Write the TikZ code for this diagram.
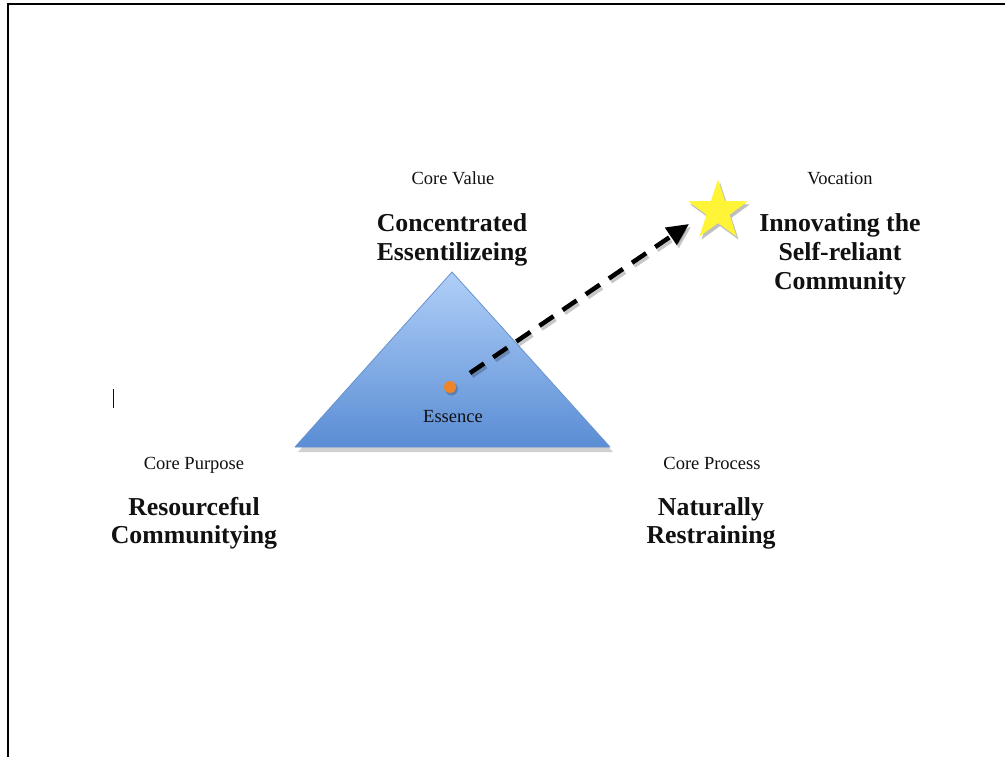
\documentclass[tikz,border=0pt]{standalone}
\usepackage{fontspec}
\setmainfont{Liberation Serif}
\usetikzlibrary{arrows.meta,shapes.geometric,shadows}
\definecolor{tritop}{HTML}{B0CFF8}
\definecolor{tribot}{HTML}{5A8DD4}
\definecolor{triedge}{HTML}{6792CE}
\definecolor{essdot}{HTML}{EE8529}
\definecolor{staryellow}{HTML}{FFF435}
\definecolor{txt}{HTML}{111111}
\tikzset{
  smalllabel/.style={font=\fontsize{18.5}{21}\selectfont, text=txt, anchor=base, inner sep=0pt},
  biglabel/.style={font=\fontsize{25.8}{29}\selectfont\bfseries, text=txt, anchor=base, inner sep=0pt},
  softshadow/.style={drop shadow={shadow xshift=2pt, shadow yshift=-3pt, opacity=0.25, fill=black}},
  dasharrow/.style={line width=4.5pt, dash pattern=on 17pt off 11pt,
        -{Triangle[length=22pt,width=20pt]}},
}
\begin{document}
\begin{tikzpicture}[x=1pt,y=-1pt]
  \useasboundingbox (0,0) rectangle (1005,757);
  \fill[white] (0,0) rectangle (1005,757);
  % page frame (top and left edges)
  \draw[line width=2.6pt] (8,757) -- (8,4) -- (1005,4);

  % the triangle
  \coordinate (apex) at (452,272);
  \coordinate (bl) at (295,447);
  \coordinate (br) at (610,447);
  \fill[black, opacity=0.18] (452,276) -- (298,452) -- (613,452) -- cycle;
  \shade[top color=tritop, bottom color=tribot] (apex) -- (bl) -- (br) -- cycle;
  \draw[triedge, line width=0.8pt, line join=round] (apex) -- (bl) -- (br) -- cycle;

  % essence point
  \fill[black, opacity=0.2] (451.5,389) circle (6.5);
  \node[circle, fill=essdot, minimum size=12pt, inner sep=0pt] (ess) at (450,387) {};
  \node[smalllabel] (esslbl) at (453,422) {Essence};

  % star
  \node[star, star points=5, star point ratio=2.6, minimum size=63pt, inner sep=0pt,
        fill=staryellow, softshadow] (star) at (718,211) {};

  % dashed arrow from essence toward the star
  \coordinate (arrstart) at (470,373);
  \coordinate (arrtip) at (689,224);
  \coordinate (shstart) at (472,376);
  \coordinate (shtip) at (691,227);
  \draw[black, opacity=0.22, dasharrow] (shstart) -- (shtip);
  \draw[black, dasharrow] (arrstart) -- (arrtip);

  % labels
  \node[smalllabel] (cv) at (453,185) {Core Value};
  \node[biglabel] (cv1) at (452,232) {Concentrated};
  \node[biglabel] (cv2) at (452,260) {Essentilizeing};

  \node[smalllabel] (voc) at (840,185) {Vocation};
  \node[biglabel] (voc1) at (840,232) {Innovating the};
  \node[biglabel] (voc2) at (840,260) {Self-reliant};
  \node[biglabel] (voc3) at (840,289) {Community};

  \node[smalllabel] (cp) at (194,469) {Core Purpose};
  \node[biglabel] (cp1) at (194,515) {Resourceful};
  \node[biglabel] (cp2) at (194,543) {Communitying};

  \node[smalllabel] (cpr) at (712,469) {Core Process};
  \node[biglabel] (cpr1) at (711,515) {Naturally};
  \node[biglabel] (cpr2) at (711,543) {Restraining};

  % text cursor
  \draw[line width=1pt, txt] (113,389) -- (113,408);
\end{tikzpicture}
\end{document}
